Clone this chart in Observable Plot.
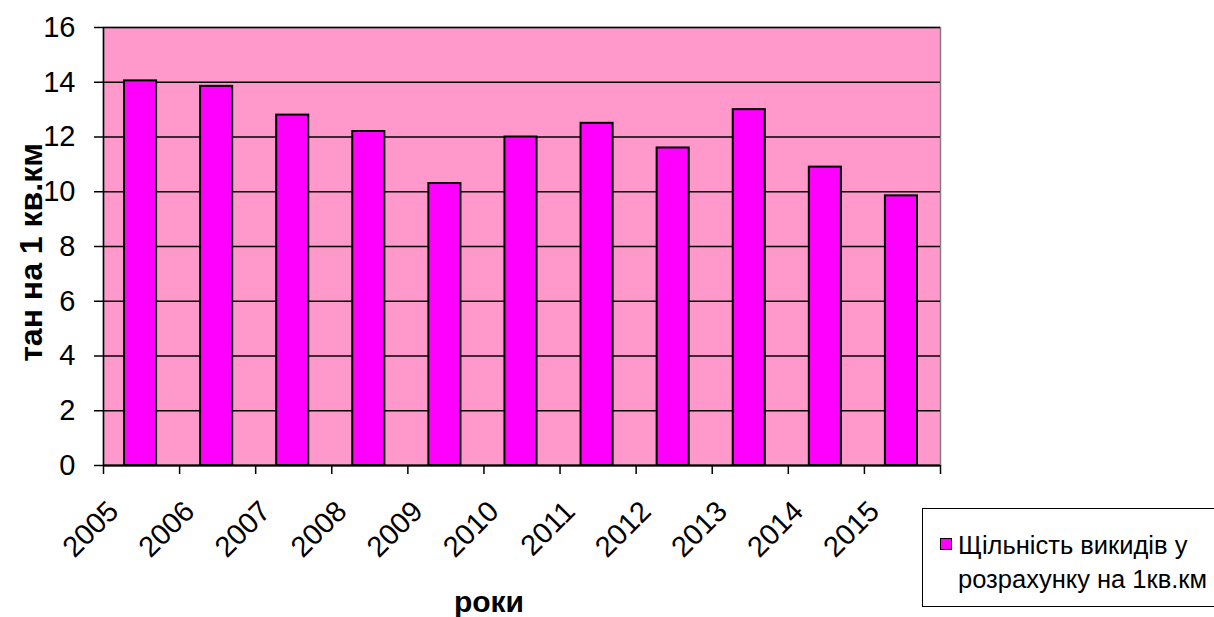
<!DOCTYPE html>
<html>
<head>
<meta charset="utf-8">
<script src="https://cdn.jsdelivr.net/npm/d3@7"></script>
<script src="https://cdn.jsdelivr.net/npm/@observablehq/plot@0.6"></script>
<style>
  body { margin: 0; background: #fff; font-family: "Liberation Sans", Arial, sans-serif; }
  #wrap { position: relative; width: 1214px; height: 617px; overflow: hidden; }
  #legend { position: absolute; left: 922px; top: 508px; width: 310px; height: 99px;
            border: 1.5px solid #000; background: #fff; box-sizing: border-box; }
  #legend .sw { position: absolute; left: 17px; top: 29px; width: 12px; height: 12px;
                background: #FF00FF; border: 1.5px solid #000; box-sizing: border-box; }
  #legend .t { position: absolute; left: 35px; font-size: 25.5px; line-height: 28px; white-space: nowrap; color: #000; }
</style>
</head>
<body>
<div id="wrap"></div>
<script>
const years = [2005, 2006, 2007, 2008, 2009, 2010, 2011, 2012, 2013, 2014, 2015];
const values = [14.05, 13.85, 12.8, 12.2, 10.3, 12.0, 12.5, 11.6, 13.0, 10.9, 9.85];
const yTicks = [0, 2, 4, 6, 8, 10, 12, 14, 16];
const xTickEdges = [2005, 2006, 2007, 2008, 2009, 2010, 2011, 2012, 2013, 2014, 2015, 2016];
const yTitle = "тан на 1 кв.км";
const xTitle = "роки";
const legendLines = ["Щільність викидів у", "розрахунку на 1кв.км"];

const data = years.map((year, i) => ({year, value: values[i]}));
const font = "'Liberation Sans', Arial, sans-serif";

const chart = Plot.plot({
  width: 1214,
  height: 617,
  marginLeft: 103,
  marginTop: 27,
  marginRight: 274,
  marginBottom: 152,
  style: {fontFamily: font, background: "transparent", overflow: "visible"},
  x: {type: "linear", domain: [2005, 2016], axis: null},
  y: {domain: [0, 16], axis: null},
  marks: [
    Plot.frame({fill: "#FF99CC", stroke: "#808080", strokeWidth: 1.5}),
    Plot.ruleY(yTicks, {stroke: "#000", strokeWidth: 1.5}),
    Plot.rectY(data, {
      x1: d => d.year, x2: d => d.year + 1, y: "value",
      insetLeft: 21, insetRight: 23,
      fill: "#FF00FF", stroke: "#000", strokeWidth: 2
    }),
    Plot.ruleX([2005], {stroke: "#000", strokeWidth: 1.5}),
    Plot.ruleY([0], {stroke: "#000", strokeWidth: 2}),
    Plot.axisY({ticks: yTicks, tickSize: 9, tickPadding: 19, fontSize: 29, stroke: "#000", strokeWidth: 1.5, label: null}),
    Plot.axisX({ticks: xTickEdges, tickSize: 9, text: null, stroke: "#000", strokeWidth: 1.5, label: null}),
    Plot.text(years, {
      x: d => d, frameAnchor: "bottom", text: d => String(d),
      rotate: -45, textAnchor: "end", lineAnchor: "middle",
      dx: 10, dy: 41, fontSize: 29, fill: "#000"
    }),
    Plot.text([yTitle], {
      frameAnchor: "left", text: d => d, rotate: -90,
      dx: -72, dy: 6, fontSize: 32, fontWeight: "bold", fill: "#000",
      textAnchor: "middle", lineAnchor: "middle"
    }),
    Plot.text([xTitle], {
      frameAnchor: "bottom", text: d => d,
      dx: -33, dy: 137, fontSize: 30, fontWeight: "bold", fill: "#000",
      textAnchor: "middle", lineAnchor: "middle"
    })
  ]
});

const wrap = document.getElementById("wrap");
wrap.appendChild(chart);
const legend = document.createElement("div");
legend.id = "legend";
legend.innerHTML = `<div class="sw"></div>` +
  legendLines.map((t, i) => `<div class="t" style="top:${22 + i * 34}px">${t}</div>`).join("");
wrap.appendChild(legend);
</script>
</body>
</html>
